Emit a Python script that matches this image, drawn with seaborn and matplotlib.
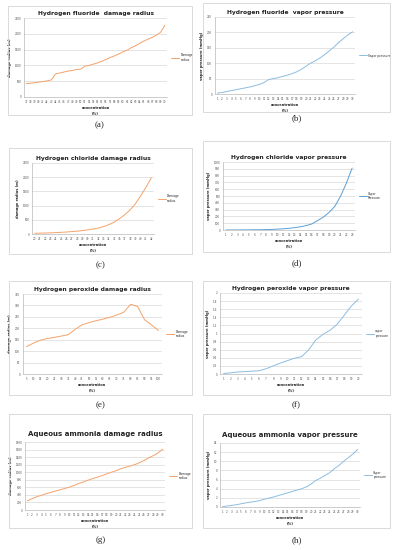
import numpy as np
import pandas as pd
import matplotlib
matplotlib.use("Agg")
import matplotlib.pyplot as plt
from matplotlib.patches import Rectangle
import seaborn as sns

# ---- data ----
hf_conc = list(range(37, 71))
hf_radius = [420, 435, 450, 470, 490, 510, 540, 730, 760, 790, 820, 840, 870, 880,
             980, 1000, 1040, 1080, 1130, 1190, 1250, 1300, 1360, 1430, 1480, 1560,
             1620, 1700, 1770, 1830, 1890, 1960, 2050, 2270]

hf_vp_conc = list(range(1, 31))
hf_vp = [3, 5, 8, 11, 14, 17, 20, 23, 27, 31, 37, 47, 50, 53, 57, 61, 66, 72, 80, 90,
         100, 108, 117, 128, 140, 153, 167, 180, 192, 202]

hcl_conc = list(range(20, 43))
hcl_radius = [25, 30, 35, 40, 50, 60, 70, 85, 100, 120, 145, 175, 210, 260, 330, 420,
              540, 680, 850, 1070, 1350, 1650, 1980]

hcl_vp_conc = list(range(1, 24))
hcl_vp = [0.5, 0.7, 1, 1.5, 2, 3, 4, 6, 9, 13, 18, 25, 35, 47, 65, 90, 140, 190, 260,
          350, 500, 690, 910]

h2o2_conc = list(range(5, 101, 5))
h2o2_radius = [120, 135, 148, 155, 160, 166, 172, 195, 215, 225, 233, 240, 248, 258,
               270, 305, 295, 237, 215, 190]

h2o2_vp_conc = list(range(1, 21))
h2o2_vp = [0.01, 0.03, 0.05, 0.06, 0.07, 0.08, 0.13, 0.2, 0.27, 0.33, 0.39, 0.43, 0.6,
           0.84, 0.98, 1.08, 1.23, 1.45, 1.68, 1.85]

nh3_conc = list(range(1, 31))
nh3_radius = [240, 300, 350, 390, 430, 465, 500, 535, 570, 605, 650, 700, 740, 790, 830,
              870, 910, 955, 1000, 1040, 1090, 1130, 1165, 1200, 1250, 1310, 1380, 1440,
              1510, 1610]

nh3_vp_conc = list(range(1, 31))
nh3_vp = [0.05, 0.2, 0.35, 0.5, 0.7, 0.9, 1.05, 1.2, 1.4, 1.7, 1.95, 2.2, 2.5, 2.8, 3.1,
          3.4, 3.7, 4.0, 4.4, 5.0, 5.8, 6.3, 6.9, 7.5, 8.4, 9.1, 10.0, 10.8, 11.6, 12.6]

ORANGE = "#F5A26B"
BLUE = "#8DBDE0"
BLUE_D = "#5A9FD6"

sns.set_style("white")
plt.rcParams['font.family'] = ['DejaVu Sans']

W, H = 397, 550
fig = plt.figure(figsize=(W / 100, H / 100), dpi=100)


def fx(x):
    return x / W


def fy(y):
    return 1 - y / H


# panel: (box, plot area, caption y, title, label, y-label, ylim, ystep, legend, colour, x, y, big title)
panels = [
    ((8, 6, 192, 115), (24, 18, 167, 97), 125, "Hydrogen fluoride  damage radius", "(a)",
     "damage radius (m)", 2500, 500, "Damage\nradius", ORANGE, hf_conc, hf_radius, False),
    ((203, 3, 390, 112), (215, 17, 355, 94), 118, "Hydrogen fluoride  vapor pressure", "(b)",
     "vapor pressure (mmHg)", 250, 50, "Vapor pressure", BLUE, hf_vp_conc, hf_vp, False),
    ((9, 148, 192, 254), (32, 163, 154, 234), 265, "Hydrogen chloride damage radius", "(c)",
     "damage radius (m)", 2500, 500, "Damage\nradius", ORANGE, hcl_conc, hcl_radius, False),
    ((203, 141, 390, 252), (223, 162, 355, 230), 263, "Hydrogen chloride vapor pressure", "(d)",
     "vapor pressure (mmHg)", 1000, 100, "Vapor\nPressure", BLUE_D, hcl_vp_conc, hcl_vp, False),
    ((9, 281, 192, 395), (23, 294, 162, 374), 405, "Hydrogen peroxide damage radius", "(e)",
     "damage radius (m)", 350, 50, "Damage\nradius", ORANGE, h2o2_conc, h2o2_radius, False),
    ((203, 281, 390, 395), (220, 293, 362, 374), 405, "Hydrogen peroxide vapor pressure", "(f)",
     "vapor pressure (mmHg)", 2, 0.2, "vapor\npressure", BLUE, h2o2_vp_conc, h2o2_vp, False),
    ((9, 414, 192, 528), (25, 442, 165, 510), 540, "Aqueous ammonia damage radius", "(g)",
     "damage radius (m)", 1800, 200, "Damage\nradius", ORANGE, nh3_conc, nh3_radius, True),
    ((203, 414, 390, 528), (220, 443, 360, 507), 540, "Aqueous ammonia vapor pressure", "(h)",
     "vapor pressure (mmHg)", 14, 2, "Vapor\npressure", BLUE, nh3_vp_conc, nh3_vp, True),
]

for box, area, cap_y, title, lab, ylab, ymax, ystep, leg, col, xs, ys, big in panels:
    bx0, by0, bx1, by1 = box
    fig.patches.append(Rectangle((fx(bx0), fy(by1)), fx(bx1 - bx0), (by1 - by0) / H,
                                 transform=fig.transFigure, fill=False,
                                 edgecolor="#d4d4d4", lw=0.6))
    ax0, ay0, ax1, ay1 = area
    ax = fig.add_axes([fx(ax0), fy(ay1), fx(ax1 - ax0), (ay1 - ay0) / H])

    df = pd.DataFrame({"x": np.arange(len(xs)), "y": ys})
    sns.lineplot(data=df, x="x", y="y", ax=ax, color=col, lw=0.7, label=leg)

    ax.set_xlim(-0.5, len(xs) - 0.5)
    ax.set_ylim(0, ymax)
    yt = np.arange(0, ymax + ystep / 2, ystep)
    ax.set_yticks(yt)
    if ystep < 1:
        ax.set_yticklabels([("%.1f" % v).rstrip("0").rstrip(".") for v in yt])
    else:
        ax.set_yticklabels([str(int(v)) for v in yt])
    ax.set_xticks(np.arange(len(xs)))
    ax.set_xticklabels([str(v) for v in xs])
    ax.tick_params(axis="both", labelsize=2.0, length=1, width=0.3, pad=1,
                   colors="#555555")
    ax.yaxis.grid(True, color="#d9d9d9", lw=0.5)
    ax.set_axisbelow(True)
    for s in ["top", "right"]:
        ax.spines[s].set_visible(False)
    for s in ["left", "bottom"]:
        ax.spines[s].set_color("#a6a6a6")
        ax.spines[s].set_linewidth(0.4)

    ax.set_xlabel("concentration\n(%)", fontsize=2.6, fontweight="bold",
                  labelpad=1.5, linespacing=1.6)
    ax.set_ylabel(ylab, fontsize=2.6, fontweight="bold", labelpad=2)
    ax.set_title(title, fontsize=5.0 if big else 4.3, fontweight="bold",
                 pad=4 if big else 2.5, color="#222222")

    ax.legend(loc="center left", bbox_to_anchor=(1.01, 0.5), frameon=False,
              fontsize=2.2, handlelength=2.5, handletextpad=0.5)

    fig.text(fx((bx0 + bx1) / 2), fy(cap_y), lab, ha="center", va="center",
             fontsize=6.5, family="Liberation Serif")

fig.savefig("out.png", dpi=100)
